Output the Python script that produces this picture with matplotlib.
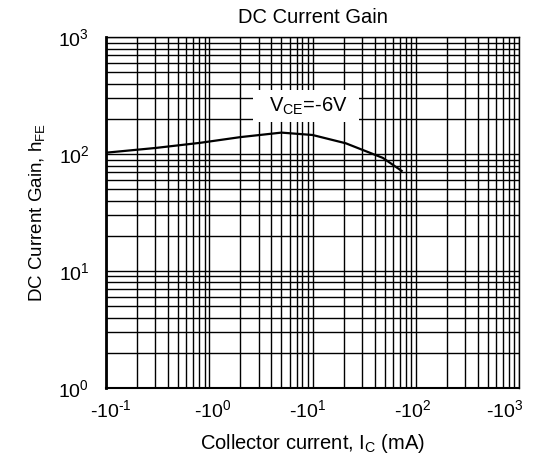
import matplotlib
matplotlib.use("Agg")
import matplotlib.pyplot as plt
from matplotlib.ticker import LogLocator, NullFormatter, FixedLocator, FixedFormatter
from matplotlib.transforms import ScaledTranslation

plt.rcParams['font.family'] = ['Liberation Sans', 'DejaVu Sans']
plt.rcParams['mathtext.fontset'] = 'custom'
plt.rcParams['mathtext.rm'] = 'Liberation Sans'
plt.rcParams['mathtext.it'] = 'Liberation Sans:italic'
plt.rcParams['mathtext.bf'] = 'Liberation Sans:bold'

# Data (collector current magnitude in mA, DC current gain)
ic_ma = [0.1, 0.3, 0.81, 2.0, 5.0, 10, 21, 48, 73]
hfe = [103, 113, 125, 140, 153, 146, 124, 93, 72]

x_ticks = [0.1, 1, 10, 100, 1000]
x_ticklabels = [r'$\text{-}10^{\text{-}1}$', r'$\text{-}10^{0}$', r'$\text{-}10^{1}$',
                r'$\text{-}10^{2}$', r'$\text{-}10^{3}$']
y_ticks = [1, 10, 100, 1000]
y_ticklabels = [r'$10^{0}$', r'$10^{1}$', r'$10^{2}$', r'$10^{3}$']

title = 'DC Current Gain'
xlabel = r'Collector current, I$_\mathregular{C}$ (mA)'
ylabel = r'DC Current Gain, h$_\mathregular{FE}$'
annot = r'V$_\mathregular{CE}$=-6V'

fig = plt.figure(figsize=(5.33, 4.57), dpi=100)
ax = fig.add_axes([106/533, 1-388/457, 413/533, 350.7/457])

ax.set_xscale('log')
ax.set_yscale('log')
ax.set_xlim(0.1, 1000)
ax.set_ylim(1, 1000)

ax.plot(ic_ma, hfe, color='black', lw=1.6, zorder=3)

ax.xaxis.set_major_locator(FixedLocator(x_ticks))
ax.xaxis.set_major_formatter(FixedFormatter(x_ticklabels))
ax.yaxis.set_major_locator(FixedLocator(y_ticks))
ax.yaxis.set_major_formatter(FixedFormatter(y_ticklabels))
ax.xaxis.set_minor_locator(LogLocator(base=10, subs=range(2, 10), numticks=20))
ax.yaxis.set_minor_locator(LogLocator(base=10, subs=range(2, 10), numticks=20))
ax.xaxis.set_minor_formatter(NullFormatter())
ax.yaxis.set_minor_formatter(NullFormatter())

ax.grid(True, which='both', color='black', lw=1.0, zorder=1)
ax.tick_params(which='both', length=0)
ax.tick_params(axis='x', pad=8, labelsize=14)
ax.tick_params(axis='y', pad=12, labelsize=14)
for s in ax.spines.values():
    s.set_linewidth(1.0)
ax.spines['left'].set_linewidth(2.0)
ax.spines['bottom'].set_linewidth(1.5)

ax.text(8.65, 258, '  ' + annot + '  ', fontsize=14.5, ha='center', va='center', zorder=4,
        bbox=dict(boxstyle='square,pad=0.25', fc='white', ec='none'))

ax.set_title(title, fontsize=14.5, pad=10)
ax.set_xlabel(xlabel, fontsize=14.5, labelpad=8)
ax.set_ylabel(ylabel, fontsize=13.5, labelpad=8)

# nudge the outermost x tick labels inward, as in the reference
fig.canvas.draw()
offsets_px = [5, 3, -5, -3, -14]
for lbl, dx in zip(ax.xaxis.get_majorticklabels(), offsets_px):
    lbl.set_transform(lbl.get_transform() + ScaledTranslation(dx / 100, 0, fig.dpi_scale_trans))

fig.savefig('out.png', dpi=100)
